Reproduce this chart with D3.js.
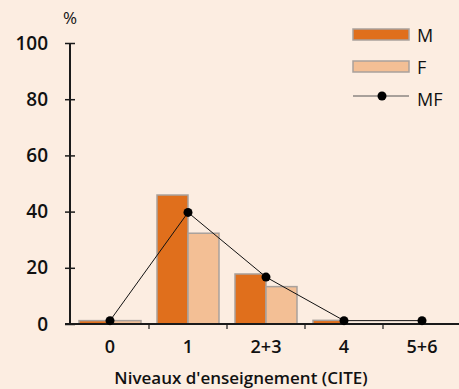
<!DOCTYPE html>
<html>
<head>
<meta charset="utf-8">
<script src="https://cdn.jsdelivr.net/npm/d3@7"></script>
<style>
  body { margin: 0; background: #fcede1; }
  svg text { font-family: "Open Sans", "Noto Sans", sans-serif; fill: #111; font-weight: 600; }
</style>
</head>
<body>
<div id="chart"></div>
<script>
var categories = ["0", "1", "2+3", "4", "5+6"];
var valuesM = [1.2, 45.9, 17.8, 1.3, 0];
var valuesF = [1.2, 32.3, 13.3, 0, 0];
var valuesMF = [1.2, 39.7, 16.7, 1.2, 1.2];
var yTicks = [0, 20, 40, 60, 80, 100];

var width = 459;
var height = 389;

var colorM = "#e06f1c";
var colorF = "#f3bf95";
var barStroke = "#a9a19c";

var svg = d3.select("#chart")
  .append("svg")
  .attr("width", width)
  .attr("height", height);

var x = d3.scaleBand()
  .domain(categories)
  .range([71, 461]);

var y = d3.scaleLinear()
  .domain([0, 100])
  .range([324, 43]);

var pad = 8;
var barW = (x.bandwidth() - 2 * pad) / 2;

// bars
var groups = svg.append("g")
  .selectAll("g")
  .data(categories)
  .enter()
  .append("g")
  .attr("transform", function (d) { return "translate(" + x(d) + ",0)"; });

groups.append("rect")
  .attr("x", pad)
  .attr("y", function (d, i) { return y(valuesM[i]); })
  .attr("width", barW)
  .attr("height", function (d, i) { return y(0) - y(valuesM[i]); })
  .style("fill", colorM)
  .style("stroke", barStroke)
  .style("stroke-width", 1.5)
  .style("display", function (d, i) { return valuesM[i] > 0 ? null : "none"; });

groups.append("rect")
  .attr("x", pad + barW)
  .attr("y", function (d, i) { return y(valuesF[i]); })
  .attr("width", barW)
  .attr("height", function (d, i) { return y(0) - y(valuesF[i]); })
  .style("fill", colorF)
  .style("stroke", barStroke)
  .style("stroke-width", 1.5)
  .style("display", function (d, i) { return valuesF[i] > 0 ? null : "none"; });

// axes
var yAxis = d3.axisLeft(y)
  .tickValues(yTicks)
  .tickSize(5)
  .tickPadding(17);

var gy = svg.append("g")
  .attr("transform", "translate(70,0)")
  .call(yAxis);
gy.select(".domain").remove();
gy.append("line")
  .attr("x1", 0).attr("x2", 0)
  .attr("y1", y(100)).attr("y2", y(0))
  .style("stroke", "#1a1a1a")
  .style("stroke-width", 2);
gy.selectAll(".tick line")
  .attr("x1", -5).attr("x2", 5)
  .style("stroke", "#1a1a1a")
  .style("stroke-width", 1.5);
gy.selectAll(".tick text")
  .style("font-size", "19px");

svg.append("line")
  .attr("x1", 65).attr("x2", width)
  .attr("y1", y(0)).attr("y2", y(0))
  .style("stroke", "#1a1a1a")
  .style("stroke-width", 2);

svg.append("g")
  .selectAll("line")
  .data(categories.slice(1))
  .enter()
  .append("line")
  .attr("x1", function (d) { return x(d); })
  .attr("x2", function (d) { return x(d); })
  .attr("y1", y(0))
  .attr("y2", y(0) + 5)
  .style("stroke", "#1a1a1a")
  .style("stroke-width", 1.2);

svg.append("g")
  .selectAll("text")
  .data(categories)
  .enter()
  .append("text")
  .attr("x", function (d) { return x(d) + x.bandwidth() / 2; })
  .attr("y", 353)
  .attr("text-anchor", "middle")
  .style("font-size", "18px")
  .text(function (d) { return d; });

svg.append("text")
  .attr("x", 241)
  .attr("y", 384)
  .attr("text-anchor", "middle")
  .style("font-size", "17px")
  .text("Niveaux d'enseignement (CITE)");

svg.append("text")
  .attr("x", 70)
  .attr("y", 24)
  .attr("text-anchor", "middle")
  .style("font-size", "17px")
  .style("font-weight", 500)
  .text("%");

// MF line
var line = d3.line()
  .x(function (d, i) { return x(categories[i]) + x.bandwidth() / 2; })
  .y(function (d) { return y(d); });

svg.append("path")
  .datum(valuesMF)
  .attr("d", line)
  .style("fill", "none")
  .style("stroke", "#111")
  .style("stroke-width", 1);

svg.append("g")
  .selectAll("circle")
  .data(valuesMF)
  .enter()
  .append("circle")
  .attr("cx", function (d, i) { return x(categories[i]) + x.bandwidth() / 2; })
  .attr("cy", function (d) { return y(d); })
  .attr("r", 4.5)
  .style("fill", "#000");

// legend
var legend = svg.append("g").attr("transform", "translate(353,0)");
legend.append("rect")
  .attr("x", 0).attr("y", 29).attr("width", 56).attr("height", 11)
  .style("fill", colorM).style("stroke", barStroke).style("stroke-width", 1.5);
legend.append("rect")
  .attr("x", 0).attr("y", 61).attr("width", 56).attr("height", 11)
  .style("fill", colorF).style("stroke", barStroke).style("stroke-width", 1.5);
legend.append("line")
  .attr("x1", 0).attr("x2", 56).attr("y1", 96).attr("y2", 96)
  .style("stroke", "#555").style("stroke-width", 1.2);
legend.append("circle")
  .attr("cx", 29).attr("cy", 96).attr("r", 4.5)
  .style("fill", "#000");

var legendLabels = ["M", "F", "MF"];
legend.selectAll("text.lab")
  .data(legendLabels)
  .enter()
  .append("text")
  .attr("class", "lab")
  .attr("x", 64)
  .attr("y", function (d, i) { return 42 + i * 32; })
  .style("font-size", "18px")
  .style("font-weight", 500)
  .text(function (d) { return d; });
</script>
</body>
</html>
